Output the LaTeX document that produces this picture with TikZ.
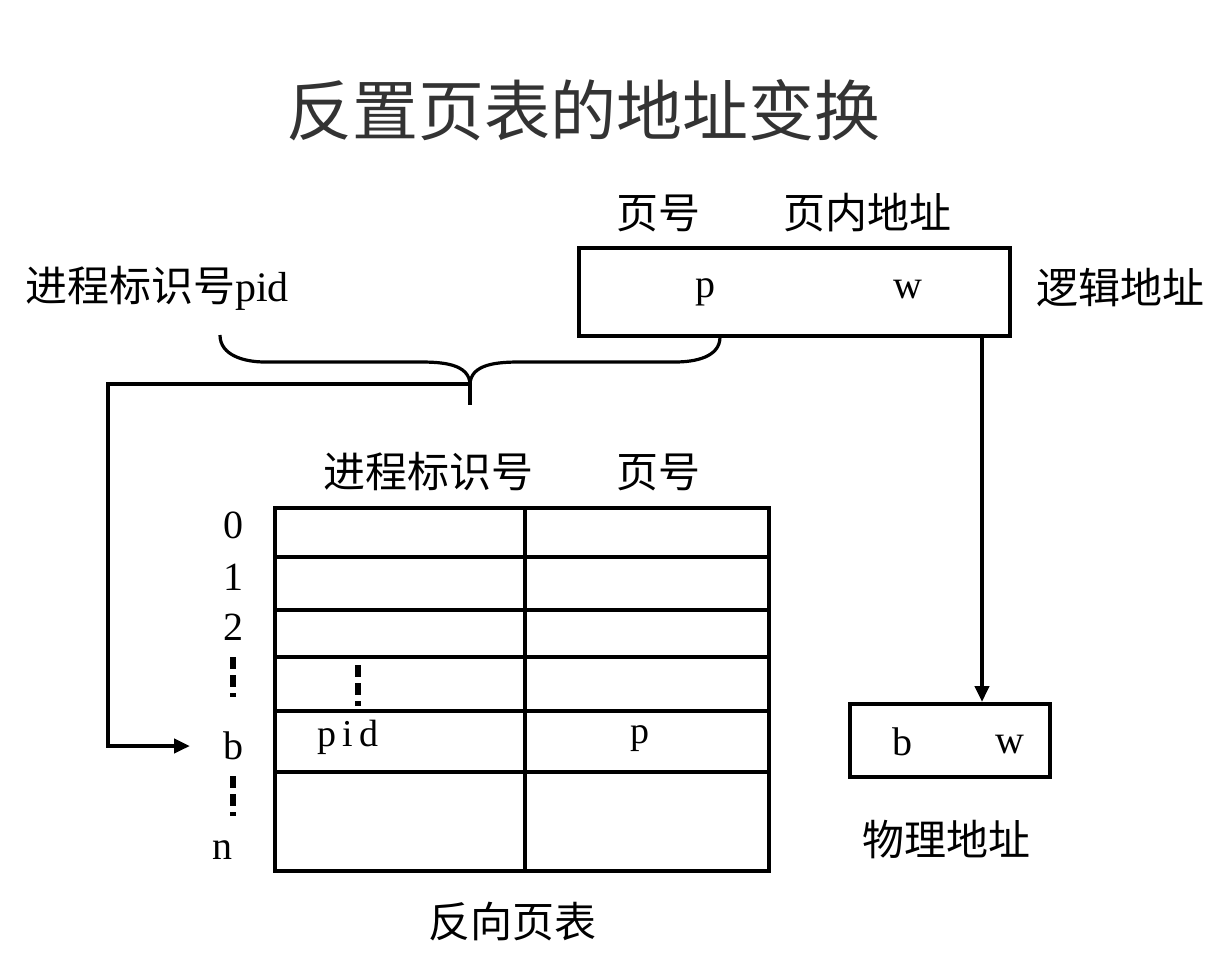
\documentclass[tikz,border=0pt]{standalone}
\usepackage{fontspec}
\setmainfont{Liberation Serif}
\newfontfamily\cjk{Noto Sans CJK SC}
\usetikzlibrary{arrows.meta, positioning, calc}

\begin{document}
\begin{tikzpicture}[x=0.5pt, y=-0.5pt, line width=2pt,
		lbl/.style={font=\cjk\fontsize{21}{24}\selectfont},
		sym/.style={font=\fontsize{20}{24}\selectfont},
		gap/.style={line width=2.6pt, dash pattern=on 6pt off 3pt},
		arr/.style={-{Triangle[length=8pt, width=7pt]}}]
		\useasboundingbox (0,0) rectangle (1230,970);
		
		% Title
		\node[font=\cjk\fontsize{33}{36}\selectfont, text=black!80] (title) at (583,110) {反置页表的地址变换};
		
		% Logical Address
		\node[draw, minimum width=215.5pt, minimum height=44pt] (logaddr) at (794.5,292) {};
		\node[sym] (p-top) at (705,292) {p};
		\node[sym] (w-top) at (908,290) {w};
		\node[lbl] (pagenum-top) at (658,213) {页号};
		\node[lbl] (offset-top) at (867,213) {页内地址};
		\node[lbl] (logaddr-lbl) at (1120,288) {逻辑地址};
		\node[font=\fontsize{21}{24}\selectfont] (pid-top) at (157,288) {{\cjk 进程标识号}pid};
		
		% Brace
		\draw[line width=1.6pt] (220,335) to[out=-90, in=180] (265,362) -- (420,362) to[out=0, in=90] (470,385);
		\draw[line width=1.6pt] (720,337) to[out=-90, in=0] (675,362) -- (520,362) to[out=180, in=90] (470,385);
		\draw[line width=1.6pt] (470,380) -- (470,405);
		\coordinate (brace-tip) at (470,384);
		
		% Inverted Page Table
		\draw (275,508) rectangle (769,871);
		\draw (525,508) -- (525,871);
		\draw (275,557) -- (769,557);
		\draw (275,610) -- (769,610);
		\draw (275,657) -- (769,657);
		\draw (275,711) -- (769,711);
		\draw (275,772) -- (769,772);
		\node[lbl] (col-pid) at (428,472) {进程标识号};
		\node[lbl] (col-page) at (658,472) {页号};
		\node[font=\fontsize{19}{22}\selectfont] (pid-cell) at (348,737) {p\,i\,d};
		\node[font=\fontsize{19}{22}\selectfont] (p-cell) at (640,739) {p};
		\draw[gap] (358,665) -- (358,706);
		\node[lbl] (table-lbl) at (512,922) {反向页表};
		
		% Row Numbers
		\node[sym] (row-0) at (233,525) {0};
		\node[sym] (row-1) at (233,577) {1};
		\node[sym] (row-2) at (233,627) {2};
		\draw[gap] (233,657) -- (233,697);
		\node[sym] (row-b) at (233,746) {b};
		\draw[gap] (233,776) -- (233,816);
		\node[sym] (row-n) at (222,850) {n};
		
		% Physical Address
		\node[draw, minimum width=100pt, minimum height=36.5pt] (physaddr) at (950,740.5) {};
		\node[sym] (b-phys) at (902,742) {b};
		\node[sym] (w-phys) at (1010,744) {w};
		\node[lbl] (physaddr-lbl) at (946,840) {物理地址};
		
		% Connectors
		\coordinate (tap) at (982,336);
		\coordinate (b-in) at (190,746);
		\draw[arr] (tap) -- (tap |- physaddr.north);
		\draw[arr] (brace-tip) -- (108,384) -- (108,746) -- (b-in);
	\end{tikzpicture}
\end{document}
